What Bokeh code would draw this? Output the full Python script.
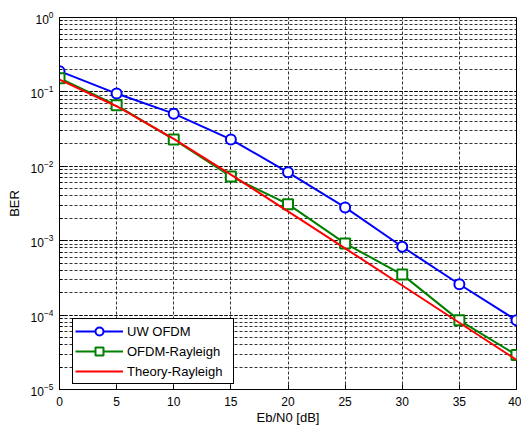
from bokeh.plotting import figure
from bokeh.models import FixedTicker, Range1d, Legend, LegendItem
from bokeh.embed import file_html
from bokeh.resources import INLINE

ebn0 = [0, 5, 10, 15, 20, 25, 30, 35, 40]
uw_ofdm = [0.19, 0.095, 0.051, 0.023, 0.0083, 0.0028, 0.00083, 0.00026, 0.000085]
ofdm_rayleigh = [0.153, 0.066, 0.023, 0.0073, 0.0031, 0.00092, 0.00035, 0.000085, 0.000029]
theory_rayleigh = [0.146, 0.0642, 0.0233, 0.00772, 0.00248, 0.00079, 0.00025, 0.000079, 0.000025]
x_ticks = [0, 5, 10, 15, 20, 25, 30, 35, 40]

FONT = "Liberation Sans"

p = figure(width=521, height=431, y_axis_type="log", output_backend="svg",
           toolbar_location=None, x_range=Range1d(0, 40), y_range=Range1d(1e-5, 1),
           min_border_left=59, min_border_right=5, min_border_top=17, min_border_bottom=42)
p.outline_line_color = "black"
p.outline_line_alpha = 1
p.outline_line_width = 1
p.background_fill_color = "white"

p.xaxis.ticker = FixedTicker(ticks=x_ticks)
for ax in (p.xaxis, p.yaxis):
    ax.axis_line_color = "black"
    ax.major_tick_in = 5
    ax.major_tick_out = 0
    ax.minor_tick_in = 3
    ax.minor_tick_out = 0
    ax.major_label_text_font = FONT
    ax.major_label_text_font_size = "12px"
    ax.major_label_text_color = "black"
    ax.axis_label_text_font = FONT
    ax.axis_label_text_font_size = "13px"
    ax.axis_label_text_font_style = "normal"
    ax.axis_label_text_color = "black"
p.xaxis.axis_label = "Eb/N0 [dB]"
p.yaxis.axis_label = "BER"
p.xaxis.major_label_standoff = 7
p.xaxis.axis_label_standoff = 1
p.yaxis.major_label_standoff = 6
p.yaxis.axis_label_standoff = 6

p.xgrid.grid_line_color = "black"
p.xgrid.grid_line_dash = "3 2"
p.xgrid.grid_line_alpha = 0.8
p.ygrid.grid_line_color = "black"
p.ygrid.grid_line_dash = "3 2"
p.ygrid.grid_line_alpha = 0.8
p.ygrid.minor_grid_line_color = "black"
p.ygrid.minor_grid_line_dash = "3 2"
p.ygrid.minor_grid_line_alpha = 0.8

r1 = p.line(ebn0, uw_ofdm, line_color="#0000FF", line_width=2)
r1m = p.scatter(ebn0, uw_ofdm, marker="circle", size=10, line_color="#0000FF",
                line_width=2, fill_color="white")
r2 = p.line(ebn0, ofdm_rayleigh, line_color="#008000", line_width=2)
r2m = p.scatter(ebn0, ofdm_rayleigh, marker="square", size=10, line_color="#008000",
                line_width=2, fill_color="white")
r3 = p.line(ebn0, theory_rayleigh, line_color="#FF0000", line_width=2)

legend = Legend(items=[
    LegendItem(label="UW OFDM", renderers=[r1, r1m]),
    LegendItem(label="OFDM-Rayleigh", renderers=[r2, r2m]),
    LegendItem(label="Theory-Rayleigh", renderers=[r3]),
], location=(13, 5))
legend.label_text_font = FONT
legend.label_text_font_size = "13px"
legend.label_text_color = "black"
legend.border_line_color = "black"
legend.border_line_alpha = 1
legend.background_fill_alpha = 1
legend.glyph_width = 48
legend.glyph_height = 20
legend.label_height = 20
legend.label_width = 104
legend.spacing = 0
legend.padding = 2
legend.margin = 0
legend.label_standoff = 4
p.add_layout(legend)

open("out.html", "w").write(file_html(p, INLINE))
